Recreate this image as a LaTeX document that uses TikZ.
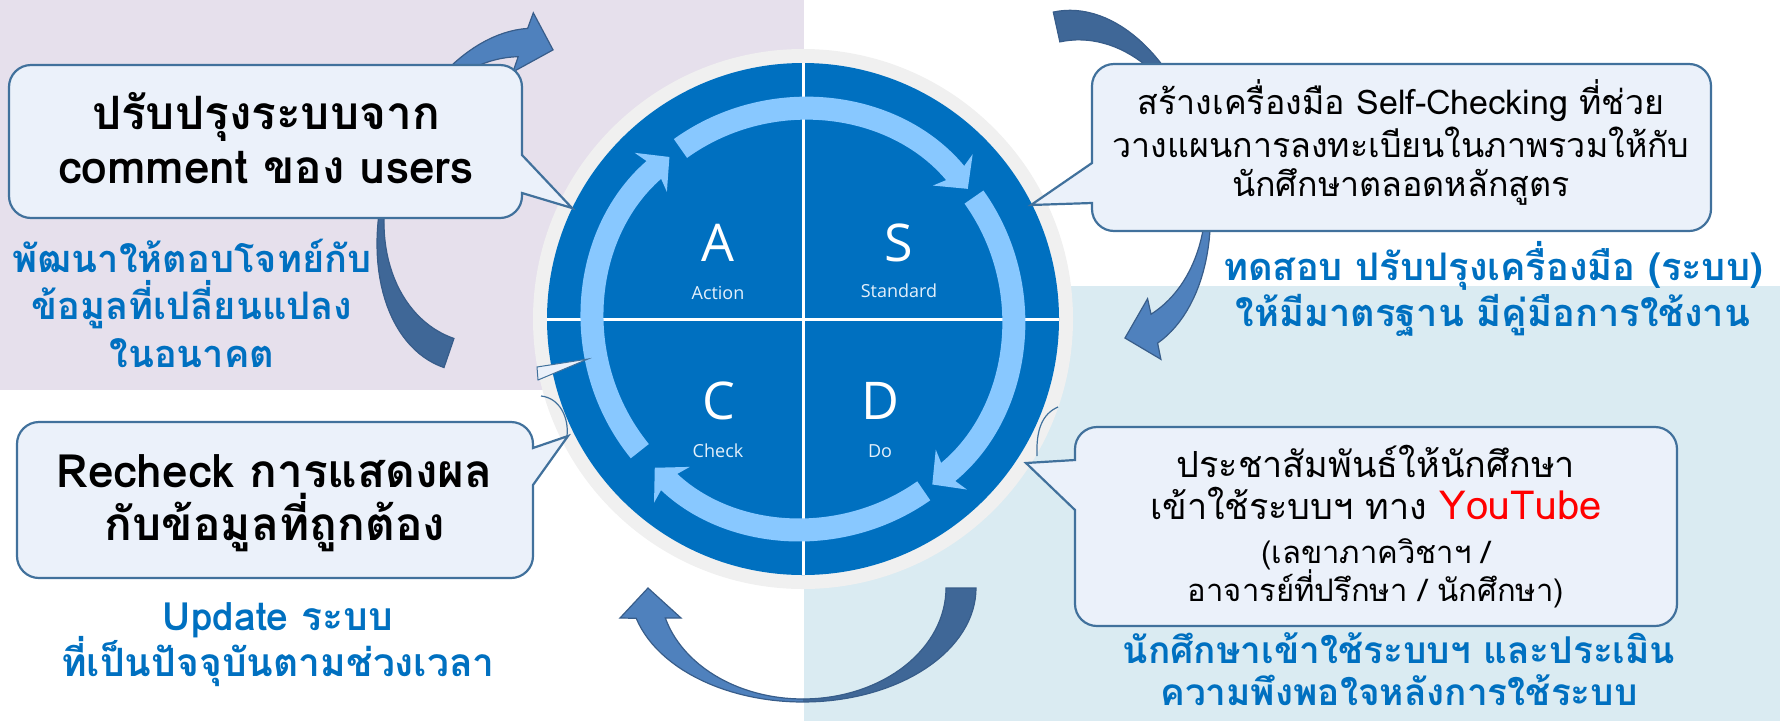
\documentclass[tikz,border=0pt]{standalone}
\usepackage{fontspec}
\setmainfont{Open Sans}
\newfontfamily\thaifont[Script=Thai]{Loma}
\newfontfamily\labfont{Open Sans}
\usetikzlibrary{arrows.meta}
\definecolor{lav}{HTML}{E6E0EC}
\definecolor{aqua}{HTML}{DAEBF2}
\definecolor{callfill}{HTML}{EBF1FA}
\definecolor{callline}{HTML}{41719C}
\definecolor{txtblue}{HTML}{0070C0}
\definecolor{diskblue}{HTML}{0070C0}
\definecolor{ringgray}{HTML}{F0F0F0}
\definecolor{bandblue}{HTML}{88C8FF}
\definecolor{arrlight}{HTML}{4F81BD}
\definecolor{arrdark}{HTML}{3F6797}
\definecolor{arrline}{HTML}{385D8A}
\definecolor{ytred}{HTML}{FF0000}
\definecolor{labwhite}{HTML}{E4F0FB}
\newcommand\bigarrowpath{(173,0) -- plot[domain=0:164.6,samples=60] ({173*cos(\x)},{114*sin(\x)}) -- (-183,30) -- (-155,0) -- (-122,30) -- plot[domain=164.3:0,samples=60] ({143*cos(\x)},{111*sin(\x)}) -- cycle}
\newcommand\mycalloutR[8]{%
  \path[callout] (#1+22,#2) -- (#3-22,#2) arc[start angle=-90,end angle=0,radius=22]
    -- (#3,#5) -- (#7,#8) -- (#3,#6)
    -- (#3,#4-22) arc[start angle=0,end angle=90,radius=22]
    -- (#1+22,#4) arc[start angle=90,end angle=180,radius=22]
    -- (#1,#2+22) arc[start angle=180,end angle=270,radius=22] -- cycle;}
\newcommand\mycalloutL[8]{%
  \path[callout] (#1+22,#2) -- (#3-22,#2) arc[start angle=-90,end angle=0,radius=22]
    -- (#3,#4-22) arc[start angle=0,end angle=90,radius=22]
    -- (#1+22,#4) arc[start angle=90,end angle=180,radius=22]
    -- (#1,#6) -- (#7,#8) -- (#1,#5)
    -- (#1,#2+22) arc[start angle=180,end angle=270,radius=22] -- cycle;}
\tikzset{pics/bigarrow/.style={code={
  \fill[arrlight] \bigarrowpath;
  \begin{scope}
    \clip (0,-260) rectangle (260,260);
    \fill[arrdark] \bigarrowpath;
  \end{scope}
  \draw[arrline, line width=1.2] \bigarrowpath;
}}}
\begin{document}
\begin{tikzpicture}[x=1pt,y=-1pt,
  callout/.style={fill=callfill, draw=callline, line width=2.2},
  band/.style={draw=bandblue, line width=23, -{Stealth[length=24pt,width=50pt,inset=7pt]}},
  blacktxt/.style={anchor=base, inner sep=0, text=black},
  bluetxt/.style={anchor=base, inner sep=0, text=txtblue, font=\thaifont\bfseries\fontsize{38}{42}\selectfont},
  bigletter/.style={anchor=base, inner sep=0, text=white, font=\labfont\fontsize{52}{56}\selectfont},
  smalllab/.style={anchor=base, inner sep=0, text=labwhite, font=\labfont\fontsize{18}{20}\selectfont}]
\useasboundingbox (0,0) rectangle (1780,721);
\clip (0,0) rectangle (1780,721);
% backgrounds
\fill[lav] (0,0) rectangle (804,390);
\fill[aqua] (804,286) rectangle (1780,721);
% big curved arrows
\pic at (803,588) {bigarrow};
\pic[rotate=-108.95, scale=1.024] at (501.5,200) {bigarrow};
\pic[rotate=102.4, scale=1.0175] at (1091.1,184) {bigarrow};
% PDCA disk
\coordinate (C) at (803,319);
\fill[ringgray] (C) circle[radius=270];
\fill[diskblue] (C) circle[radius=256];
\coordinate (vtop) at (803,63);
\coordinate (vbot) at (803,575);
\coordinate (hleft) at (547,319);
\coordinate (hright) at (1059,319);
\draw[white, line width=3] (vtop) -- (vbot);
\draw[white, line width=3] (hleft) -- (hright);
\draw[band] (C) ++(-125.7:210) arc[start angle=-125.7, end angle=-38.3, radius=210];
\draw[band] (C) ++(-35.5:210) arc[start angle=-35.5, end angle=52, radius=210];
\draw[band] (C) ++(54.9:210) arc[start angle=54.9, end angle=134.9, radius=210];
\draw[band] (C) ++(141:210) arc[start angle=141, end angle=230.5, radius=210];
\node[bigletter] (lA) at (718,261) {A};
\node[smalllab] (lAction) at (718,299) {Action};
\node[bigletter] (lS) at (899,261) {S};
\node[smalllab] (lStandard) at (899,297) {Standard};
\node[bigletter] (lC) at (719,419) {C};
\node[smalllab] (lCheck) at (718,457) {Check};
\node[bigletter] (lD) at (880,419) {D};
\node[smalllab] (lDo) at (880,457) {Do};
% small leftover outline pieces
\filldraw[fill=callfill, draw=callline, line width=1] (537,367) -- (588,359) -- (538,380) -- cycle;
\draw[callline, line width=1.2] (541,396) .. controls (560,398) and (569,418) .. (567,436);
\draw[callline, line width=1.2] (1058,407) .. controls (1042,414) and (1036,430) .. (1037,456);
% callouts
\mycalloutR{9}{65}{522}{218}{155}{193}{572}{208}
\mycalloutR{17}{422}{533}{578}{448}{485}{568}{436}
\mycalloutL{1092}{64}{1711}{231}{163}{203}{1031}{205}
\mycalloutL{1075}{427}{1677}{626}{460}{510}{1026}{463}
% callout texts
\node[blacktxt, font=\thaifont\bfseries\fontsize{46}{50}\selectfont] (tA1) at (266,129) {ปรับปรุงระบบจาก};
\node[blacktxt, font=\thaifont\bfseries\fontsize{46}{50}\selectfont] (tA2) at (266,183) {comment ของ users};
\node[blacktxt, font=\thaifont\bfseries\fontsize{46}{50}\selectfont] (tC1) at (275,487) {Recheck การแสดงผล};
\node[blacktxt, font=\thaifont\bfseries\fontsize{46}{50}\selectfont] (tC2) at (275,540) {กับข้อมูลที่ถูกต้อง};
\node[blacktxt, font=\thaifont\fontsize{34}{38}\selectfont] (tS1) at (1401,114) {สร้างเครื่องมือ Self-Checking ที่ช่วย};
\node[blacktxt, font=\thaifont\fontsize{34}{38}\selectfont] (tS2) at (1401,157) {วางแผนการลงทะเบียนในภาพรวมให้กับ};
\node[blacktxt, font=\thaifont\fontsize{34}{38}\selectfont] (tS3) at (1401,196) {นักศึกษาตลอดหลักสูตร};
\node[blacktxt, font=\thaifont\fontsize{36}{40}\selectfont] (tD1) at (1376,477) {ประชาสัมพันธ์ให้นักศึกษา};
\node[blacktxt, font=\thaifont\fontsize{36}{40}\selectfont] (tD2) at (1376,519) {เข้าใช้ระบบฯ ทาง {\color{ytred}\fontsize{40}{44}\selectfont YouTube}};
\node[blacktxt, font=\thaifont\fontsize{31}{35}\selectfont] (tD3) at (1376,563) {(เลขาภาควิชาฯ /};
\node[blacktxt, font=\thaifont\fontsize{31}{35}\selectfont] (tD4) at (1376,601) {อาจารย์ที่ปรึกษา / นักศึกษา)};
% blue texts
\node[bluetxt] (bA1) at (192,272) {พัฒนาให้ตอบโจทย์กับ};
\node[bluetxt] (bA2) at (192,319) {ข้อมูลที่เปลี่ยนแปลง};
\node[bluetxt] (bA3) at (192,367) {ในอนาคต};
\node[bluetxt] (bS1) at (1493,280) {ทดสอบ ปรับปรุงเครื่องมือ (ระบบ)};
\node[bluetxt] (bS2) at (1493,326) {ให้มีมาตรฐาน มีคู่มือการใช้งาน};
\node[bluetxt, font=\thaifont\bfseries\fontsize{39}{43}\selectfont] (bC1) at (278,630) {Update ระบบ};
\node[bluetxt, font=\thaifont\bfseries\fontsize{39}{43}\selectfont] (bC2) at (278,676) {ที่เป็นปัจจุบันตามช่วงเวลา};
\node[bluetxt, font=\thaifont\bfseries\fontsize{37}{41}\selectfont] (bD1) at (1399,663) {นักศึกษาเข้าใช้ระบบฯ และประเมิน};
\node[bluetxt, font=\thaifont\bfseries\fontsize{37}{41}\selectfont] (bD2) at (1399,705) {ความพึงพอใจหลังการใช้ระบบ};
\end{tikzpicture}
\end{document}
